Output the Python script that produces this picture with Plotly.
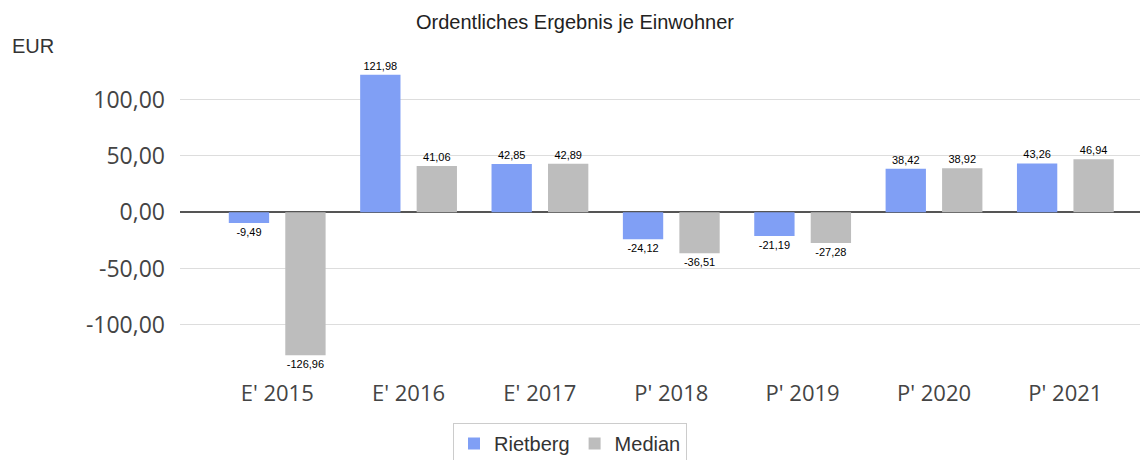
import plotly.graph_objects as go

categories = ["E' 2015", "E' 2016", "E' 2017", "P' 2018", "P' 2019", "P' 2020", "P' 2021"]
rietberg = [-9.49, 121.98, 42.85, -24.12, -21.19, 38.42, 43.26]
median = [-126.96, 41.06, 42.89, -36.51, -27.28, 38.92, 46.94]
y_ticks = [-100, -50, 0, 50, 100]

def fmt(v):
    return f"{v:.2f}".replace(".", ",")

label_font = dict(family="Liberation Sans, Arial", size=11, color="#000000")

# page body adds 8px offset; layout coordinates compensate
L, T, B = 172, 52, 98
PLOT_BOTTOM = 460 - B
PLOT_H = 460 - T - B
PLOT_W = 1148 - L

fig = go.Figure()
fig.add_trace(go.Bar(
    name="Rietberg", x=categories, y=rietberg,
    marker=dict(color="#809ff5", line=dict(width=0)),
    text=[fmt(v) for v in rietberg], textposition="outside",
    textfont=label_font, cliponaxis=False, constraintext="none",
))
fig.add_trace(go.Bar(
    name="Median", x=categories, y=median,
    marker=dict(color="#bdbdbd", line=dict(width=0)),
    text=[fmt(v) for v in median], textposition="outside",
    textfont=label_font, cliponaxis=False, constraintext="none",
))

fig.update_layout(
    width=1148, height=460,
    margin=dict(l=L, r=0, t=T, b=B, autoexpand=False),
    paper_bgcolor="white", plot_bgcolor="white",
    separators=",.",
    barmode="group", bargap=0.14, bargroupgap=0.286,
    title=dict(text="Ordentliches Ergebnis je Einwohner", x=567 / 1148, xref="container",
               y=1 - 14 / 460, yref="container", yanchor="middle", xanchor="center",
               font=dict(family="Liberation Sans, Arial", size=20, color="#222222")),
    xaxis=dict(range=[-0.74, 6.69], showgrid=False, showline=False, zeroline=False,
               ticks="", automargin=False, tickangle=0, ticklabelstandoff=8,
               tickfont=dict(family="Open Sans", size=22, color="#444444")),
    yaxis=dict(range=[-140, 135], tickvals=y_ticks, ticktext=[fmt(v) for v in y_ticks],
               showgrid=True, gridcolor="#dddddd", gridwidth=1,
               zeroline=True, zerolinecolor="#555555", zerolinewidth=1.5,
               showline=False, ticks="", ticklabelstandoff=14, automargin=False,
               tickfont=dict(family="Open Sans", size=23, color="#444444")),
    legend=dict(orientation="h", x=(562 - L) / PLOT_W, xanchor="center",
                y=-(415 - PLOT_BOTTOM) / PLOT_H, yanchor="top",
                bordercolor="#cccccc", borderwidth=1,
                font=dict(family="Liberation Sans, Arial", size=20, color="#333333"),
                traceorder="normal"),
    annotations=[dict(text="EUR", xref="paper", yref="paper",
                      x=(2 - L) / PLOT_W, y=(PLOT_BOTTOM - 38) / PLOT_H,
                      xanchor="left", yanchor="middle", showarrow=False,
                      font=dict(family="Liberation Sans, Arial", size=20, color="#333333"))],
    showlegend=True,
)

fig.write_html("out.html")
